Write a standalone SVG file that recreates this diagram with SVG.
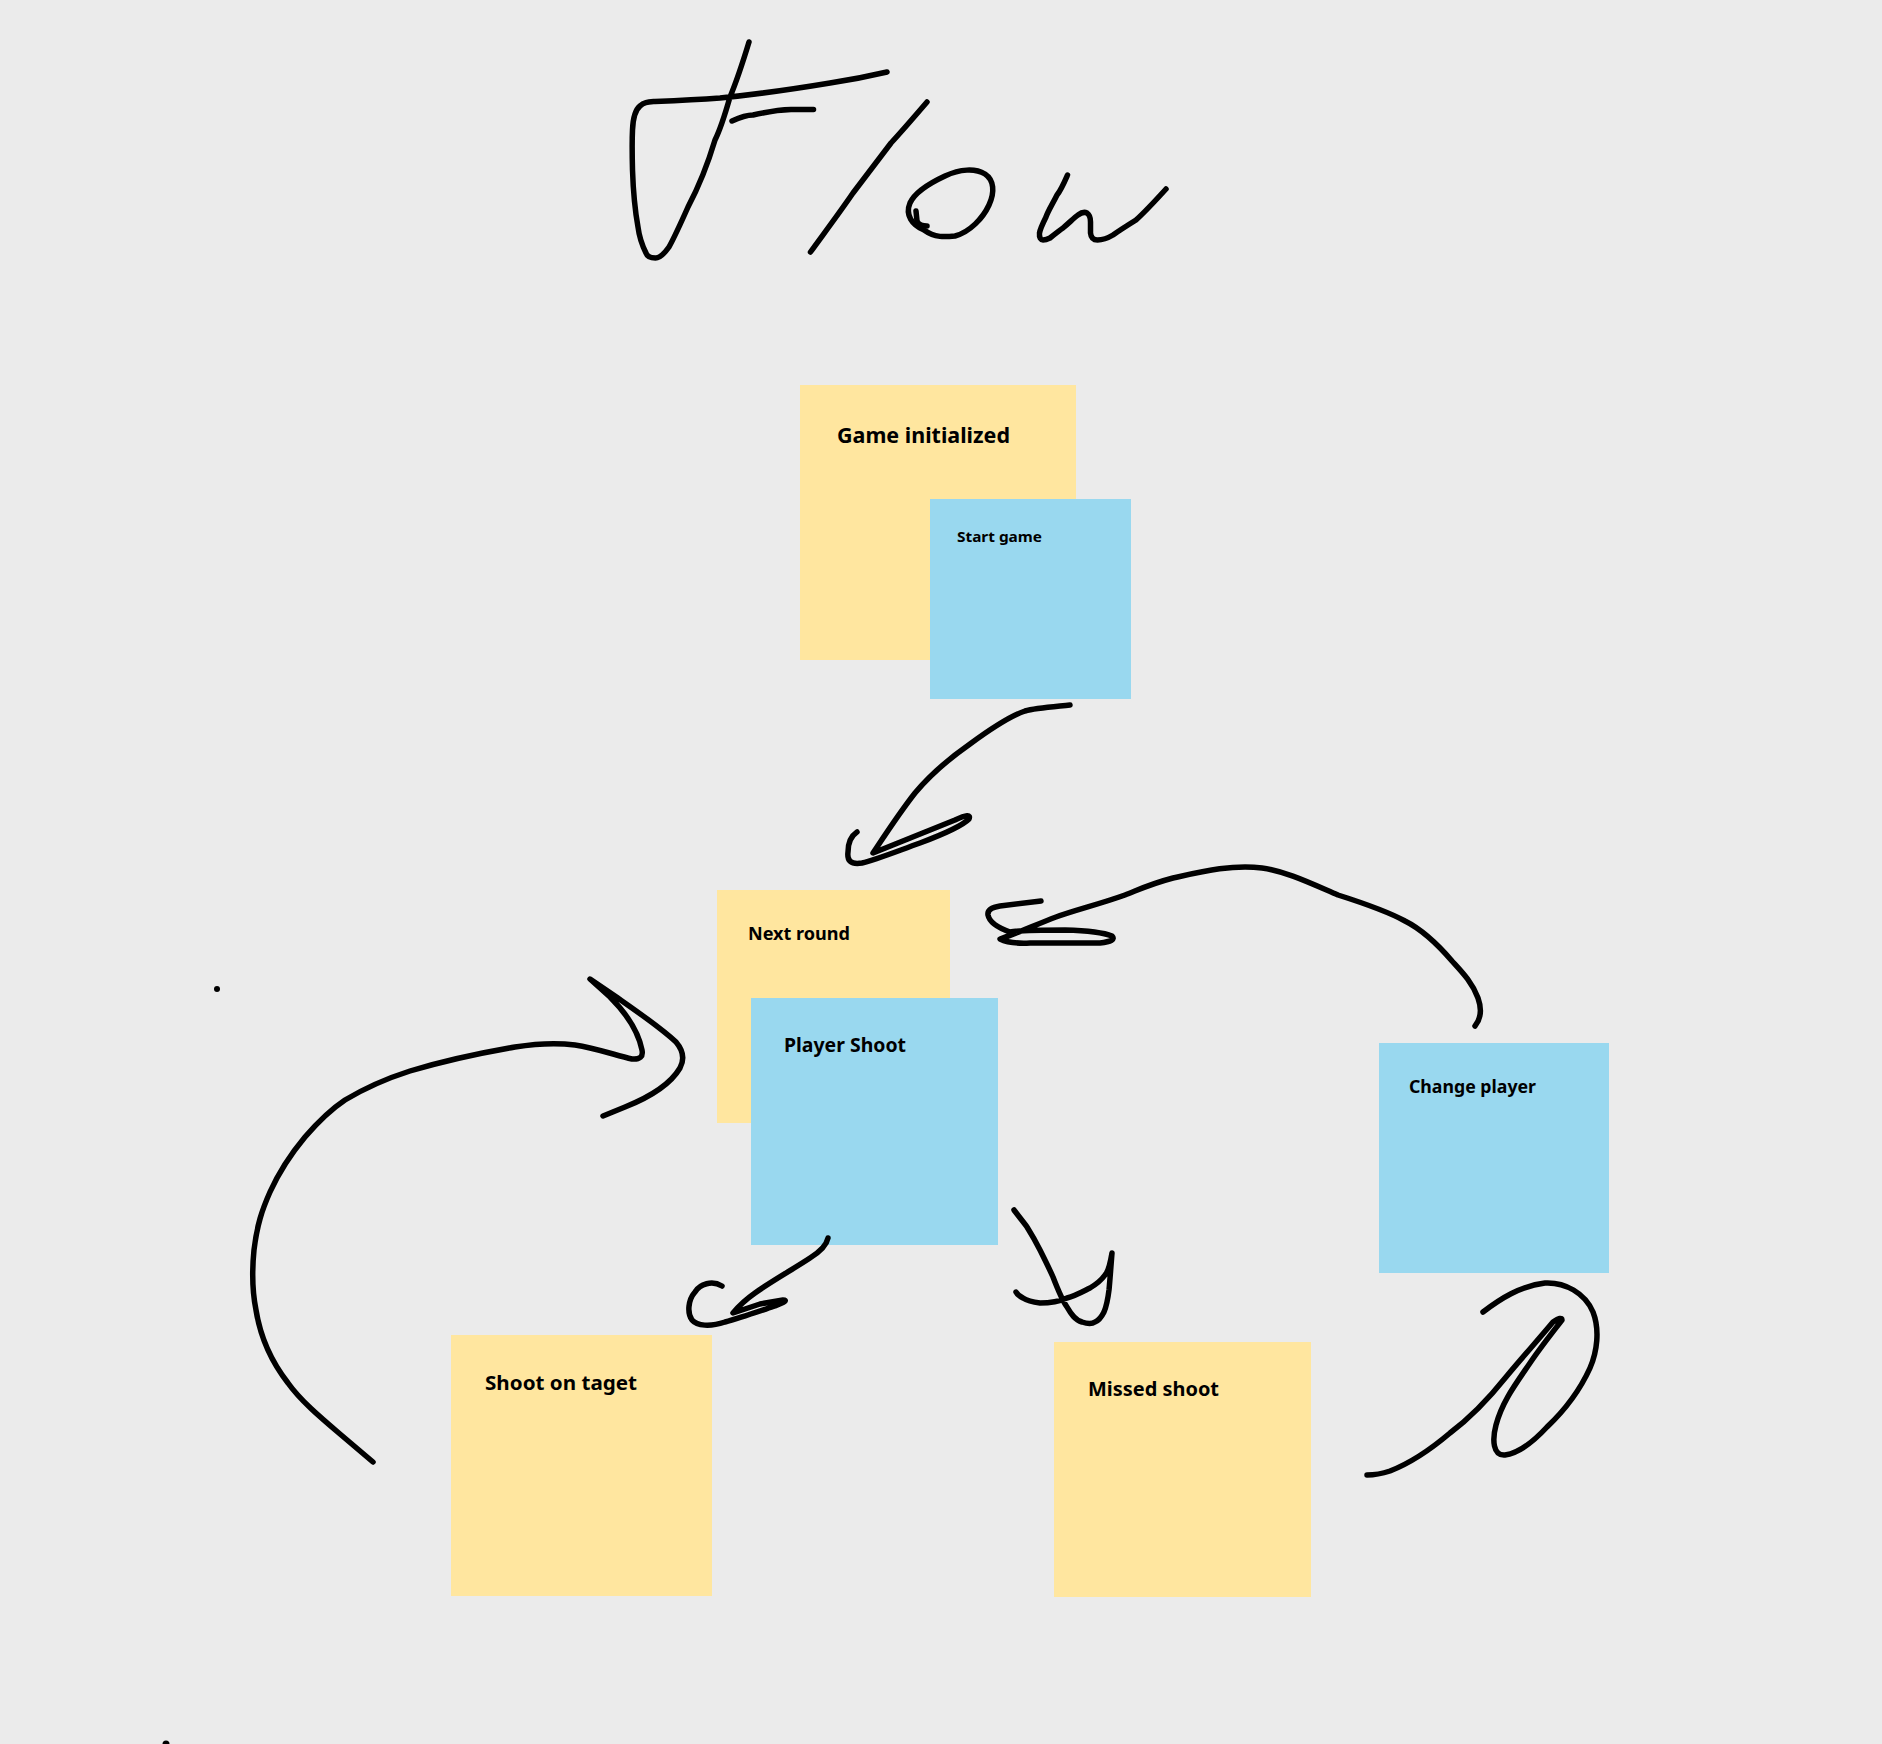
<svg xmlns="http://www.w3.org/2000/svg" width="1882" height="1744" viewBox="0 0 1882 1744">
<style>
.ink{fill:none;stroke:#000;stroke-width:5.5;stroke-linecap:round;stroke-linejoin:round}
.y{fill:#FFE69F}
.b{fill:#99D8EF}
.t{font-family:"Noto Sans","Open Sans","Liberation Sans",sans-serif;font-weight:700;fill:#000}
</style>
<rect width="1882" height="1744" fill="#EBEBEB"/>
<g id="title">
<path class="ink" d="M749,42 C742,65 735,85 730,97 C724,118 720,130 715,140 C706,170 697,190 688,207 C680,225 674,238 669,247 C664,254 660,258 655.5,258 C650,258 647,256 646,253 C642,245 639,235 638,227 C634,205 633,185 632.5,170 C632,150 632,140 632.5,130 C633,118 635,110 640,106 C644,102 648,102 655,101.5 C680,100.5 700,99.5 720,98 C760,94 800,88 830,83 C850,80 870,76 887,72"/>
<path class="ink" d="M732,121 Q745,115 753,115 Q775,110 791,109.5 L813.5,109.5"/>
<path class="ink" d="M927,102 C915,116 903,130 891,143 C878,160 865,177 853,193 C840,212 825,232 810.5,252"/>
<path class="ink" d="M924,230 C935,238 945,237 955,236 C970,232 983,218 989,205 C995,192 994,180 985,174 C975,168 960,169 945,176 C930,183 915,192 910,203 C905,215 912,225 924,230"/>
<path class="ink" d="M916,211 L917,221 Q919,226 927,226"/>
<path class="ink" d="M1067.5,175 C1064,183 1061,190 1057,195 C1052,205 1048,211 1046,217 C1042,225 1040,230 1039.5,233 C1039,238 1041,240 1043,240 C1046,240 1048,239 1050,238 C1055,234 1060,230 1063,228 C1070,222 1075,217 1078,215 C1082,212 1085,212 1087,213 C1090,215 1090.5,218 1090.5,222 L1090.5,233 C1091,238 1094,240 1097.5,240 C1103,240 1108,238 1113,235 C1120,230 1128,225 1136,220 C1146,211 1156,200 1166,189"/>
</g>
<g id="dots">
<circle cx="217" cy="989" r="3" fill="#000"/>
<circle cx="166" cy="1744" r="3.5" fill="#000"/>
</g>
<g id="node-game-initialized">
<rect class="y" x="800" y="385" width="276" height="275"/>
<text class="t" x="837" y="443" font-size="21" textLength="173" lengthAdjust="spacingAndGlyphs">Game initialized</text>
</g>
<g id="node-start-game">
<rect class="b" x="930" y="499" width="201" height="200"/>
<text class="t" x="957" y="542" font-size="15" textLength="85" lengthAdjust="spacingAndGlyphs">Start game</text>
</g>
<g id="node-next-round">
<rect class="y" x="717" y="890" width="233" height="233"/>
<text class="t" x="748" y="940" font-size="18" textLength="102" lengthAdjust="spacingAndGlyphs">Next round</text>
</g>
<g id="node-player-shoot">
<rect class="b" x="751" y="998" width="247" height="247"/>
<text class="t" x="784" y="1052" font-size="19" textLength="122" lengthAdjust="spacingAndGlyphs">Player Shoot</text>
</g>
<g id="node-change-player">
<rect class="b" x="1379" y="1043" width="230" height="230"/>
<text class="t" x="1409" y="1093" font-size="18" textLength="127" lengthAdjust="spacingAndGlyphs">Change player</text>
</g>
<g id="node-shoot-on-taget">
<rect class="y" x="451" y="1335" width="261" height="261"/>
<text class="t" x="485" y="1390" font-size="20" textLength="152" lengthAdjust="spacingAndGlyphs">Shoot on taget</text>
</g>
<g id="node-missed-shoot">
<rect class="y" x="1054" y="1342" width="257" height="255"/>
<text class="t" x="1088" y="1396" font-size="20" textLength="131" lengthAdjust="spacingAndGlyphs">Missed shoot</text>
</g>
<g id="connectors">
<path class="ink" d="M1070,705 C1050,707 1035,708 1025,711 C1010,716 985,733 970,744 C950,758 930,775 915,793 C900,812 885,835 873,853 L955,820 Q972,812 969,819 Q960,828 920,843 C895,852 875,860 862,863 C850,865 847,860 848,852 C848,842 851,836 857,832"/>
<path class="ink" d="M1475,1026 Q1484,1015 1478,998 C1472,982 1462,972 1452,961 C1440,947 1425,931 1405,921 C1385,910 1360,902 1338,895 C1310,883 1285,871 1262,868 C1232,864 1200,872 1173,878 C1150,884 1138,890 1125,895 C1100,904 1075,910 1056,917 C1035,925 1018,933 1000,939 Q1010,944 1030,943 L1100,943 Q1117,941 1112,936 Q1100,931 1065,930 C1040,930 1020,930 1010,932 Q990,925 988,915 Q987,908 1000,906 L1041,901"/>
<path class="ink" d="M373,1462 L340,1434 C320,1417 300,1400 288,1383 C270,1360 260,1335 256,1310 C252,1290 252,1270 254,1250 C257,1225 262,1210 270,1192 C280,1170 290,1155 305,1137 C318,1122 330,1110 345,1100 C365,1088 385,1079 410,1071 C440,1062 480,1053 515,1047 C540,1043 560,1043 575,1045 C595,1048 615,1055 632,1059 Q644,1060 642,1050 C638,1030 625,1012 610,997 L590,979 L615,996 C635,1010 660,1027 676,1042 Q687,1055 680,1068 C670,1085 650,1097 625,1107 L603,1116"/>
<path class="ink" d="M828,1238 Q826,1248 810,1258 C795,1268 770,1282 755,1293 C745,1300 738,1307 733,1313 L760,1304 L783,1300 Q790,1300 775,1306 C760,1311 740,1318 725,1322 C710,1327 697,1326 692,1320 C687,1313 688,1300 695,1292 C700,1284 712,1280 722,1286"/>
<path class="ink" d="M1014,1210 C1020,1218 1025,1224 1027,1227 C1032,1235 1036,1242 1040,1250 C1045,1260 1049,1268 1053,1277 C1058,1290 1062,1300 1067,1307 C1071,1314 1075,1320 1082,1322 C1088,1324 1092,1324 1095,1322 C1100,1320 1102,1316 1104,1312 C1107,1305 1108,1298 1109,1290 C1110,1280 1111,1265 1112,1253 C1110,1265 1108,1272 1105,1275 C1100,1282 1095,1285 1090,1288 C1082,1292 1075,1296 1067,1298 C1058,1302 1050,1303 1040,1303 C1032,1302 1026,1300 1023,1298 C1019,1296 1017,1294 1016,1292"/>
<path class="ink" d="M1483,1312 C1500,1299 1520,1286 1545,1283 C1565,1282 1585,1293 1593,1312 C1600,1330 1597,1352 1590,1368 C1580,1390 1565,1410 1547,1427 C1535,1440 1520,1453 1505,1455 C1493,1456 1492,1440 1496,1425 C1502,1402 1515,1385 1530,1363 C1540,1348 1552,1333 1562,1320 Q1562,1316 1553,1322 C1538,1340 1520,1360 1506,1377 C1490,1397 1470,1418 1450,1433 C1430,1450 1408,1464 1390,1471 C1378,1475 1370,1475 1367,1475"/>
</g>
</svg>
